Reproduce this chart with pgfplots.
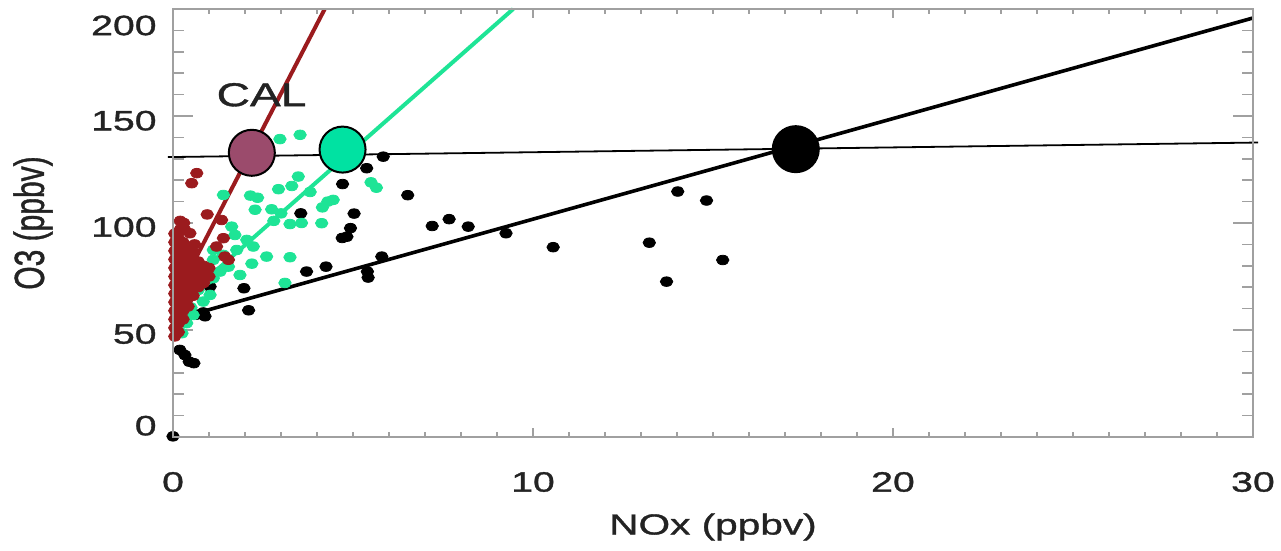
\documentclass[border=0pt]{standalone}
\usepackage{fontspec}
\setmainfont{Liberation Sans}[FakeStretch=1.4,FakeBold=1.2]
\newfontfamily\plainfont{Liberation Sans}[FakeBold=1.2]
\usepackage{graphicx}
\usepackage{pgfplots}
\pgfplotsset{compat=1.18}

\definecolor{maroondot}{RGB}{155,27,30}
\definecolor{greendot}{RGB}{30,228,150}
\definecolor{maroonbig}{RGB}{155,75,108}
\definecolor{greenbig}{RGB}{0,226,162}
\definecolor{axisgray}{RGB}{160,160,160}
\definecolor{txt}{RGB}{35,35,35}

\begin{document}
\begin{tikzpicture}
% main axis: data, y ticks, labels
\begin{axis}[
  scale only axis, width=540pt, height=214pt,
  at={(0,0)}, anchor=south west,
  xmin=0, xmax=30, ymin=0, ymax=200,
  clip=false,
  axis line style={axisgray, line width=1pt},
  tick style={axisgray, line width=0.8pt},
  major tick length=10pt, minor tick length=5.5pt,
  xtick=\empty,
  ytick={0,50,100,150,200}, minor y tick num=4,
  yticklabels={\raisebox{5.65pt}[\height][\depth]{0},\raisebox{-2pt}[\height][\depth]{50},\raisebox{-2pt}[\height][\depth]{100},\raisebox{-2.35pt}[\height][\depth]{150},\raisebox{-8.25pt}[\height][\depth]{200}},
  yticklabel style={font=\fontsize{14}{16}\selectfont, text=txt, inner sep=0pt, anchor=east, xshift=-8pt},
  ylabel={\plainfont\fontsize{15}{17}\selectfont\scalebox{1}[1.4]{O3 (ppbv)}},
  ylabel style={at={(axis description cs:-0.1296,0.5)}, anchor=center, text=txt, inner sep=0pt},
]
% black points
\addplot[only marks, mark=*, mark size=2.4pt, color=black, mark options={xscale=1.3}] coordinates {
(0,0.3)
(5.84,131) (5.38,125.6) (4.71,118.2) (6.52,113) (5.03,104.4) (3.55,104.5)
(4.93,97.6) (4.70,93) (4.83,93.6) (7.2,98.6) (7.67,101.8) (8.2,98.3)
(9.25,95.2) (10.56,88.7) (13.23,90.8) (13.71,72.6) (14.02,114.7) (14.82,110.5)
(15.27,82.7) (5.80,84.3) (5.40,77.3) (5.42,74.5) (4.25,79.6) (3.71,77.3)
(1.97,69.5) (1.03,70.3) (2.10,59.2) (0.84,58.2) (0.66,57.2) (0.89,56.4)
(0.19,40.7) (0.33,38.3) (0.45,35.2) (0.58,34.5)
};
% green points
\addplot[only marks, mark=*, mark size=2.4pt, color=greendot, mark options={xscale=1.3}] coordinates {
(2.97,139.2) (3.53,141.2) (3.48,121.7) (3.30,117.3) (2.93,115.8) (2.15,112.8)
(2.35,111.8) (2.28,106.2) (2.74,106.4) (1.40,113.1) (1.63,98.3) (2.8,101)
(3.25,99.5) (3.57,100) (4.13,99.9) (1.72,94.4) (5.5,119) (5.65,116.5)
(4.3,110) (4.45,110.8) (4.15,107.3) (2.05,92.1) (2.23,89) (1.77,87.4)
(2.60,84.3) (3.25,84.0) (2.19,81.0) (1.86,75.7) (3.11,72.0) (1.54,79.6)
(1.31,77.3) (1.12,74.2) (1.03,66.4) (0.84,63.3) (0.56,57.0) (0.38,53.2)
(1.12,87.4) (1.40,85.1) (1.12,82.8) (0.84,78.1) (0.94,73.4) (0.70,68.7)
(3.81,114.5) (3.0,104.5) (0.25,48.5) (0.5,60.5)
};
% maroon points
\addplot[only marks, mark=*, mark size=2.4pt, color=maroondot, mark options={xscale=1.3}] coordinates {
(0.05,47) (0.05,51) (0.05,55) (0.05,59) (0.05,63) (0.05,67) (0.05,71) (0.05,75) (0.05,79) (0.05,83) (0.05,87) (0.05,91) (0.05,95)
(0.15,49) (0.15,53) (0.15,57) (0.15,61) (0.15,65) (0.15,69) (0.15,73) (0.15,77) (0.15,81) (0.15,85) (0.15,89) (0.15,93) (0.2,97) (0.2,101)
(0.28,55) (0.28,59) (0.28,63) (0.28,67) (0.28,71) (0.28,75) (0.28,79) (0.28,83) (0.28,87) (0.28,91) (0.33,96.8) (0.3,100)
(0.42,61) (0.42,65) (0.42,69) (0.42,73) (0.42,77) (0.42,81) (0.42,85) (0.42,89) (0.47,95.2)
(0.56,66) (0.56,70) (0.56,74) (0.56,78) (0.56,82) (0.56,86) (0.6,90)
(0.7,70) (0.7,74) (0.7,78) (0.7,82)
(0.85,72) (0.85,76) (0.85,80)
(1.0,75) (1.0,79)
(0.66,123.3) (0.52,118.6) (0.95,104) (1.35,101.4) (1.40,92.9) (1.21,89) (1.44,84.3) (1.54,82.8)
};
% fit lines
\addplot[color=greendot, line width=2pt] coordinates {(0.3,64.5) (9.45,200)};
\addplot[color=maroondot, line width=2pt] coordinates {(0.6,82.5) (4.215,200)};
\addplot[color=black, line width=1.8pt] coordinates {(0.47,57) (30,195.8)};
% threshold line
\addplot[color=black, line width=0.9pt] coordinates {(-0.14,130.8) (30.14,137.6)};
% big circles
\addplot[only marks, mark=*, mark size=11.5pt, color=black, mark options={fill=maroonbig, draw=black, line width=1pt}] coordinates {(2.19,132.8)};
\addplot[only marks, mark=*, mark size=11.5pt, color=black, mark options={fill=greenbig, draw=black, line width=1pt}] coordinates {(4.71,134.3)};
\addplot[only marks, mark=*, mark size=11.5pt, color=black, mark options={fill=black, draw=black, line width=1pt}] coordinates {(17.3,134.5)};
\node[font=\fontsize{16.5}{18}\selectfont, text=txt] at (axis cs:2.46,159.9) {CAL};
\end{axis}
% second axis: x ticks with shorter lengths
\begin{axis}[
  scale only axis, width=540pt, height=214pt,
  at={(0,0)}, anchor=south west,
  xmin=0, xmax=30, ymin=0, ymax=200,
  axis line style={axisgray, line width=1pt},
  tick style={axisgray, line width=0.8pt},
  major tick length=4.5pt, minor tick length=2.5pt,
  ytick=\empty,
  xtick={0,10,20,30}, minor x tick num=9,
  xticklabels={0,10,20,30},
  xticklabel style={font=\fontsize{14}{16}\selectfont, text=txt, inner sep=0pt, anchor=center, yshift=-22.5pt},
  xlabel={NOx (ppbv)},
  xlabel style={at={(axis description cs:0.5,-0.2103)}, anchor=center, font=\fontsize{14.5}{16}\selectfont, text=txt, inner sep=0pt},
]
\end{axis}
\pgfresetboundingbox
\path (-86.5pt,-57pt) rectangle (554pt,218.5pt);
\end{tikzpicture}
\end{document}
